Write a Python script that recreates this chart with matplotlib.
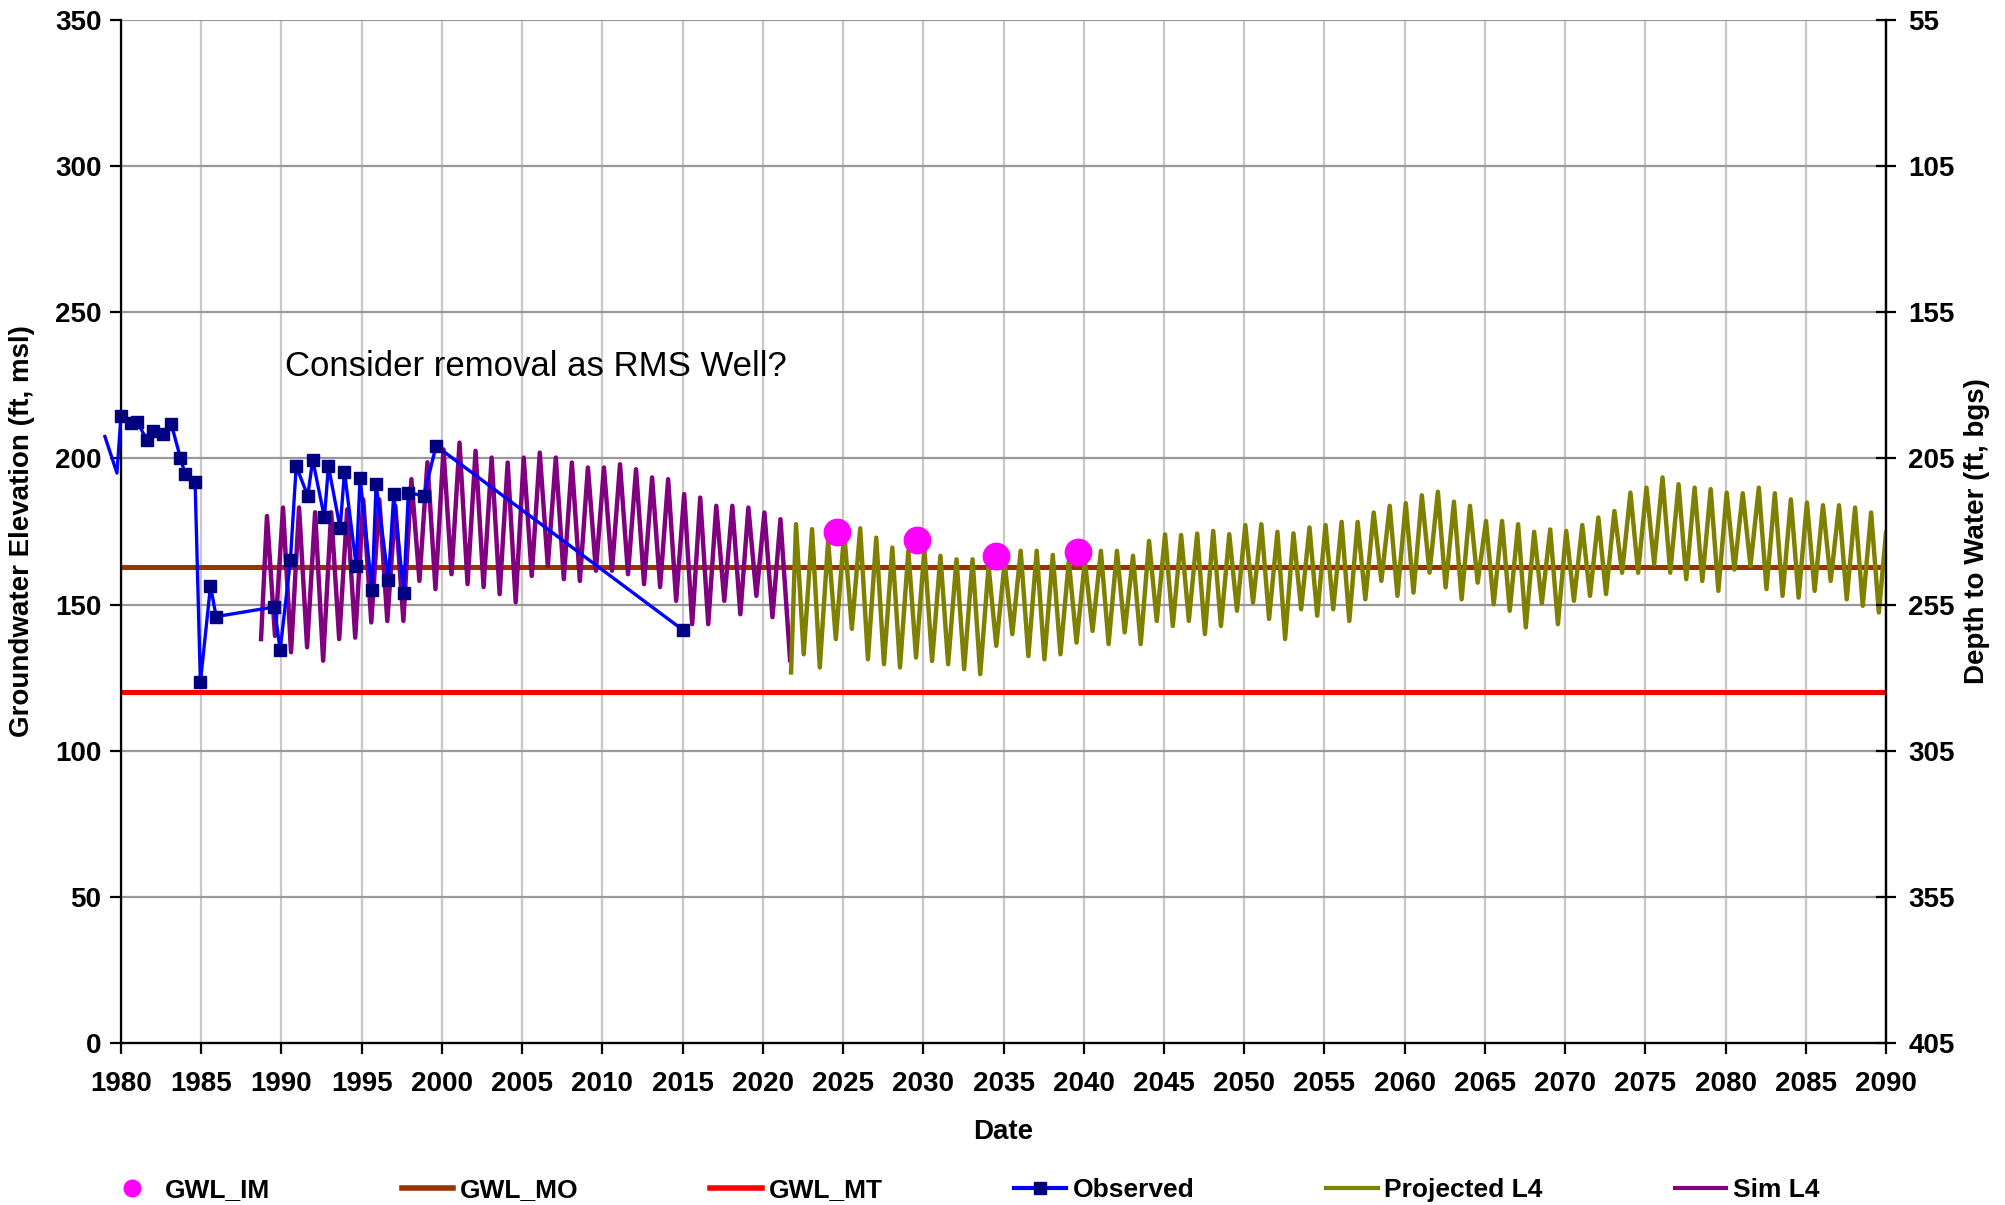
import numpy as np
import matplotlib
matplotlib.use("Agg")
import matplotlib.pyplot as plt
from matplotlib.lines import Line2D

plt.rcParams['font.family'] = ['Liberation Sans', 'DejaVu Sans']

#####
# data read off the hydrograph
#####
obs_dates = [1979.0, 1979.75, 1980.0, 1980.64, 1981.0, 1981.63, 1981.98, 1982.65,
             1983.13, 1983.71, 1984.0, 1984.62, 1984.95, 1985.58, 1985.93, 1989.56,
             1989.92, 1990.56, 1990.92, 1991.64, 1991.95, 1992.68, 1992.93, 1993.66,
             1993.93, 1994.66, 1994.90, 1995.65, 1995.90, 1996.67, 1997.00, 1997.62,
             1997.91, 1998.87, 1999.64, 2015.05]
obs_vals = [207.5, 195.0, 214.5, 212.0, 212.6, 206.2, 209.4, 208.5,
            211.9, 200.1, 194.6, 192.0, 123.4, 156.4, 145.9, 149.2,
            134.4, 165.2, 197.4, 187.2, 199.5, 179.8, 197.4, 176.1,
            195.4, 163.2, 193.3, 154.9, 191.2, 158.3, 187.8, 154.1,
            188.3, 187.2, 204.3, 141.2]

# simulated (calibration) run, one seasonal high and low per year
sim_years = list(range(1989, 2022))
sim_high = [180.3, 183.2, 183.2, 181.6, 181.6, 182.6, 186.0, 186.0, 183.8, 192.9,
            198.7, 203.1, 205.4, 202.6, 200.3, 198.6, 200.3, 202.0, 200.3, 198.6,
            196.9, 196.9, 198.0, 196.3, 193.5, 192.9, 187.8, 186.6, 183.8, 183.8,
            183.2, 181.5, 179.2]
sim_low = [139.3, 133.7, 135.4, 130.8, 138.2, 138.7, 143.9, 144.4, 144.4, 158.1,
           155.3, 160.4, 157.0, 156.0, 153.6, 150.8, 159.8, 163.2, 158.7, 158.1,
           161.6, 161.6, 160.4, 157.0, 156.0, 151.3, 143.3, 143.3, 151.3, 146.7,
           153.0, 145.7, 131.0]
sim_start = (1988.73, 138.2)

# projected run
proj_years = list(range(2022, 2090))
proj_high = [177.5, 175.8, 171.8, 174.6, 176.1, 172.9, 169.5, 168.4, 169.0, 166.7,
             165.5, 165.5, 163.2, 164.4, 168.4, 168.4, 167.0, 165.0, 165.0, 168.4,
             168.4, 166.7, 171.8, 174.0, 173.8, 174.3, 175.2, 174.1, 177.2, 177.5,
             174.9, 174.4, 176.4, 177.2, 178.3, 178.3, 181.5, 183.8, 184.7, 187.4,
             188.6, 185.2, 183.8, 178.6, 178.6, 177.5, 174.9, 175.7, 175.2, 177.2,
             179.8, 182.0, 188.3, 190.0, 193.5, 191.2, 190.0, 189.5, 188.3, 188.1,
             190.0, 188.1, 186.0, 184.9, 184.0, 184.0, 183.2, 181.5]
proj_low = [133.0, 128.5, 138.2, 141.7, 131.3, 129.6, 128.5, 131.9, 130.7, 129.6,
            127.9, 126.2, 135.9, 139.9, 132.4, 131.3, 133.0, 137.0, 141.0, 136.5,
            140.5, 136.5, 144.4, 142.7, 144.4, 139.9, 142.7, 147.9, 150.7, 145.1,
            138.2, 148.4, 146.2, 148.4, 144.4, 151.8, 158.1, 153.0, 154.1, 160.9,
            155.9, 151.8, 157.5, 150.1, 147.9, 142.2, 150.4, 143.3, 151.3, 153.0,
            153.6, 160.9, 160.9, 163.8, 160.9, 158.7, 158.1, 154.7, 162.0, 163.2,
            155.3, 153.0, 152.4, 154.7, 158.1, 151.8, 149.6, 147.3]
proj_start = (2021.76, 126.8)
proj_end = (2090.0, 174.7)

im_dates = [2024.6, 2029.6, 2034.55, 2039.65]
im_vals = [174.9, 172.1, 166.7, 168.0]

gwl_mo = 162.7
gwl_mt = 120.0


def seasonal_series(start, years, highs, lows, end=None, hi_off=0.1, lo_off=0.6):
    x = [start[0]]
    y = [start[1]]
    for yr, h, l in zip(years, highs, lows):
        x += [yr + hi_off, yr + lo_off]
        y += [h, l]
    if len(highs) > len(lows):
        x.append(years[-1] + hi_off)
        y.append(highs[-1])
    if end is not None:
        x.append(end[0])
        y.append(end[1])
    return x, y


sim_x, sim_y = seasonal_series(sim_start, sim_years, sim_high, sim_low[:-1])
sim_x.append(2021.7)
sim_y.append(sim_low[-1])
proj_x, proj_y = seasonal_series(proj_start, proj_years, proj_high, proj_low,
                                 end=proj_end, hi_off=0.07, lo_off=0.55)

fig = plt.figure(figsize=(20.06, 12.05), dpi=100)
ax = fig.add_axes([0.0603, 0.1344, 0.8799, 0.849])

ax.axhline(gwl_mt, color='#FF0000', lw=3.6, zorder=2)
ax.axhline(gwl_mo, color='#993300', lw=3.6, zorder=3)
ax.plot(sim_x, sim_y, color='#800080', lw=3.2, zorder=4)
ax.plot(proj_x, proj_y, color='#808000', lw=3.2, zorder=4)
ax.plot(obs_dates, obs_vals, color='#0000FF', lw=2.4, marker='s', ms=8,
        mfc='#000080', mec='#000080', markevery=slice(2, None), zorder=5,
        clip_on=False)
ax.plot(im_dates, im_vals, 'o', color='#FF00FF', ms=19, zorder=6)

ax.text(1990.2, 231.5, 'Consider removal as RMS Well?', fontsize=25, va='center')

ax.set_xlim(1980, 2090)
ax.set_ylim(0, 350)
ax.set_xticks(np.arange(1980, 2091, 5))
ax.set_yticks(np.arange(0, 351, 50))
ax.grid(True, axis='y', color='#999999', lw=1.6, zorder=0)
ax.grid(True, axis='x', color='#c8c8c8', lw=1.6, zorder=0)
ax.set_axisbelow(True)
ax.spines['top'].set_visible(False)
for s in ['left', 'bottom', 'right']:
    ax.spines[s].set_linewidth(1.6)
ax.tick_params(axis='both', direction='out', length=8, width=1.6, labelsize=20)
ax.tick_params(axis='x', pad=12)
ax.tick_params(axis='y', pad=6)
for lab in ax.get_xticklabels() + ax.get_yticklabels():
    lab.set_fontweight('bold')

ax.set_xlabel('Date', fontsize=20, fontweight='bold', labelpad=16)
ax.set_ylabel('Groundwater Elevation (ft, msl)', fontsize=20, fontweight='bold')
ax.yaxis.set_label_coords(-0.0487, 0.5)

ax2 = ax.twinx()
ax2.set_ylim(405, 55)
ax2.set_yticks(np.arange(55, 406, 50))
ax2.spines['top'].set_visible(False)
ax2.spines['right'].set_linewidth(1.6)
ax2.tick_params(axis='y', direction='inout', length=14, width=1.6, labelsize=20, pad=9)
for lab in ax2.get_yticklabels():
    lab.set_fontweight('bold')
ax2.set_ylabel('Depth to Water (ft, bgs)', fontsize=20, fontweight='bold')
ax2.yaxis.set_label_coords(1.0442, 0.5)

handles = [
    Line2D([], [], ls='none', marker='o', color='#FF00FF', ms=12),
    Line2D([], [], color='#993300', lw=4),
    Line2D([], [], color='#FF0000', lw=4),
    Line2D([], [], color='#0000FF', lw=3, marker='s', ms=8, mfc='#000080', mec='#000080'),
    Line2D([], [], color='#808000', lw=3),
    Line2D([], [], color='#800080', lw=3),
]
labels = ['GWL_IM', 'GWL_MO', 'GWL_MT', 'Observed', 'Projected L4', 'Sim L4']
fig.legend(handles, labels, loc='center', bbox_to_anchor=(0.48, 0.0124), ncol=6,
           frameon=False, prop={'size': 19, 'weight': 'bold'}, handlelength=1.95,
           handletextpad=0.25, columnspacing=5.0)

fig.savefig('out.png', dpi=100)
